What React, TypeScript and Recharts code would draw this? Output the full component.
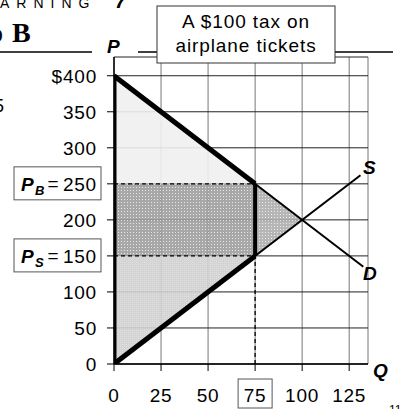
import React from "react";
import { ComposedChart, Area, Line, XAxis, YAxis, CartesianGrid } from "recharts";

const qTicks = [0, 25, 50, 75, 100, 125];
const pTicks = [0, 50, 100, 150, 200, 250, 300, 350, 400];

const buyerPrice = 250;
const sellerPrice = 150;
const taxedQ = 75;

const demandLine = [{ q: 0, p: 400 }, { q: 132.5, p: 135 }];
const supplyLine = [{ q: 0, p: 0 }, { q: 131, p: 262 }];
const demandTaxed = [{ q: 0, p: 400 }, { q: 75, p: 250 }];
const supplyTaxed = [{ q: 0, p: 0 }, { q: 75, p: 150 }];
const wedge = [{ q: 75, p: 150 }, { q: 75, p: 250 }];
const priceAxisBar = [{ q: 0, p: 0 }, { q: 0, p: 400 }];
const buyerDash = [{ q: 0, p: 250 }, { q: 75, p: 250 }];
const sellerDash = [{ q: 0, p: 150 }, { q: 75, p: 150 }];
const quantityDash = [{ q: 75, p: 0 }, { q: 75, p: 150 }];

const consumerSurplus = [{ q: 0, r: [250, 400] }, { q: 75, r: [250, 250] }];
const taxRevenue = [{ q: 0, r: [150, 250] }, { q: 75, r: [150, 250] }];
const producerSurplus = [{ q: 0, r: [0, 150] }, { q: 75, r: [150, 150] }];
const deadweightLoss = [{ q: 75, r: [150, 250] }, { q: 100, r: [200, 200] }];

const font = "'Liberation Sans', Arial, sans-serif";

const PriceTick = (props: any) => {
  const { x, y, payload } = props;
  const v = payload.value;
  if (v === buyerPrice || v === sellerPrice) {
    const sub = v === buyerPrice ? "B" : "S";
    return (
      <g fontFamily={font}>
        <rect x={x - 91} y={y - 17} width={87} height={33} fill="#fff" stroke="#555" />
        <text x={x - 84} y={y + 7} fontSize={19} fontWeight="bold" fontStyle="italic">P</text>
        <text x={x - 70} y={y + 11} fontSize={13} fontWeight="bold" fontStyle="italic">{sub}</text>
        <text x={x - 52} y={y + 6} fontSize={19} textAnchor="middle">=</text>
        <text x={x - 8} y={y + 7} fontSize={19} letterSpacing={0.8} textAnchor="end">{v}</text>
      </g>
    );
  }
  return (
    <text x={x - 8} y={y + 7} fontSize={19} letterSpacing={0.8} textAnchor="end" fontFamily={font} fill="#000">
      {v === 400 ? "$400" : v}
    </text>
  );
};

const QTick = (props: any) => {
  const { x, y, payload } = props;
  const v = payload.value;
  return (
    <g fontFamily={font}>
      {v === taxedQ && (
        <rect x={x - 17} y={y + 6} width={34} height={29} fill="#fff" stroke="#555" />
      )}
      <text x={x} y={y + 29} fontSize={19} letterSpacing={0.8} textAnchor="middle" fill="#000">{v}</text>
    </g>
  );
};

export default function App() {
  return (
    <div style={{ position: "absolute", left: 0, top: 0, width: 400, height: 409, background: "#fff" }}>
      <ComposedChart
        width={400}
        height={409}
        margin={{ top: 57, right: 32, bottom: 15, left: 54 }}
      >
        <defs>
          <pattern id="taxPat" width="3" height="3" patternUnits="userSpaceOnUse">
            <rect width="3" height="3" fill="#9c9c9c" />
            <rect x="1" y="1" width="1" height="1" fill="#e4e4e4" />
          </pattern>
          <pattern id="dwlPat" width="3" height="3" patternUnits="userSpaceOnUse">
            <rect width="3" height="3" fill="#acacac" />
            <rect x="1" y="1" width="1" height="1" fill="#e8e8e8" />
          </pattern>
          <pattern id="psPat" width="2" height="2" patternUnits="userSpaceOnUse">
            <rect width="2" height="2" fill="#cfcfcf" />
            <rect width="1" height="1" fill="#dcdcdc" />
          </pattern>
        </defs>
        <CartesianGrid horizontal={false} stroke="#777" strokeWidth={1} />
        <CartesianGrid vertical={false} stroke="#222" strokeWidth={1} />
        <XAxis
          type="number"
          dataKey="q"
          domain={[0, 135]}
          ticks={qTicks}
          tick={<QTick />}
          tickSize={7}
          axisLine={{ stroke: "#000", strokeWidth: 1.5 }}
          tickLine={{ stroke: "#000" }}
          allowDataOverflow
        />
        <YAxis
          type="number"
          domain={[0, 426]}
          ticks={pTicks}
          tick={<PriceTick />}
          tickSize={7}
          width={60}
          axisLine={{ stroke: "#000", strokeWidth: 1.5 }}
          tickLine={{ stroke: "#000" }}
          allowDataOverflow
        />
        <Area data={consumerSurplus} dataKey="r" type="linear" stroke="none" fill="#f0f0f0" fillOpacity={0.9} isAnimationActive={false} />
        <Area data={producerSurplus} dataKey="r" type="linear" stroke="none" fill="url(#psPat)" fillOpacity={0.9} isAnimationActive={false} />
        <Area data={taxRevenue} dataKey="r" type="linear" stroke="none" fill="url(#taxPat)" fillOpacity={0.88} isAnimationActive={false} />
        <Area data={deadweightLoss} dataKey="r" type="linear" stroke="none" fill="url(#dwlPat)" fillOpacity={0.88} isAnimationActive={false} />
        <Line data={buyerDash} dataKey="p" stroke="#000" strokeWidth={1.3} strokeDasharray="4 3" dot={false} isAnimationActive={false} />
        <Line data={sellerDash} dataKey="p" stroke="#000" strokeWidth={1.3} strokeDasharray="4 3" dot={false} isAnimationActive={false} />
        <Line data={quantityDash} dataKey="p" stroke="#000" strokeWidth={1.3} strokeDasharray="4 3" dot={false} isAnimationActive={false} />
        <Line data={demandLine} dataKey="p" stroke="#000" strokeWidth={2} dot={false} isAnimationActive={false} />
        <Line data={supplyLine} dataKey="p" stroke="#000" strokeWidth={2} dot={false} isAnimationActive={false} />
        <Line data={demandTaxed} dataKey="p" stroke="#000" strokeWidth={5} dot={false} isAnimationActive={false} />
        <Line data={supplyTaxed} dataKey="p" stroke="#000" strokeWidth={5} dot={false} isAnimationActive={false} />
        <Line data={wedge} dataKey="p" stroke="#000" strokeWidth={4} dot={false} isAnimationActive={false} />
        <Line data={priceAxisBar} dataKey="p" stroke="#000" strokeWidth={5} dot={false} isAnimationActive={false} />
      </ComposedChart>
      <svg
        width={400}
        height={409}
        style={{ position: "absolute", left: 0, top: 0, pointerEvents: "none" }}
        fontFamily={font}
      >
        <text x={0} y={8} fontSize={14} letterSpacing={7}>ARNING</text>
        <text x={115} y={8} fontSize={20} fontWeight="bold" fontStyle="italic">7</text>
        <text x={-11} y={42} fontSize={28} fontWeight="bold" fontFamily="'Liberation Serif', serif">o</text>
        <text x={12} y={42} fontSize={28} fontWeight="bold" fontFamily="'Liberation Serif', serif">B</text>
        <text x={-6} y={112} fontSize={18}>5</text>
        <line x1={0} y1={52} x2={92} y2={52} stroke="#000" strokeWidth={1.5} />
        <line x1={138} y1={52} x2={393} y2={52} stroke="#000" strokeWidth={1.5} />
        <rect x={157} y={6} width={178} height={57} fill="#fff" stroke="#333" />
        <text x={246} y={28} fontSize={19} letterSpacing={0.9} textAnchor="middle">A $100 tax on</text>
        <text x={246} y={52} fontSize={19} letterSpacing={0.9} textAnchor="middle">airplane tickets</text>
        <text x={107} y={53} fontSize={19} fontWeight="bold" fontStyle="italic">P</text>
        <text x={363} y={174} fontSize={19} fontWeight="bold" fontStyle="italic">S</text>
        <text x={363} y={280} fontSize={19} fontWeight="bold" fontStyle="italic">D</text>
        <text x={373} y={377} fontSize={19} fontWeight="bold" fontStyle="italic">Q</text>
        <text x={389} y={414} fontSize={12}>11</text>
      </svg>
    </div>
  );
}
